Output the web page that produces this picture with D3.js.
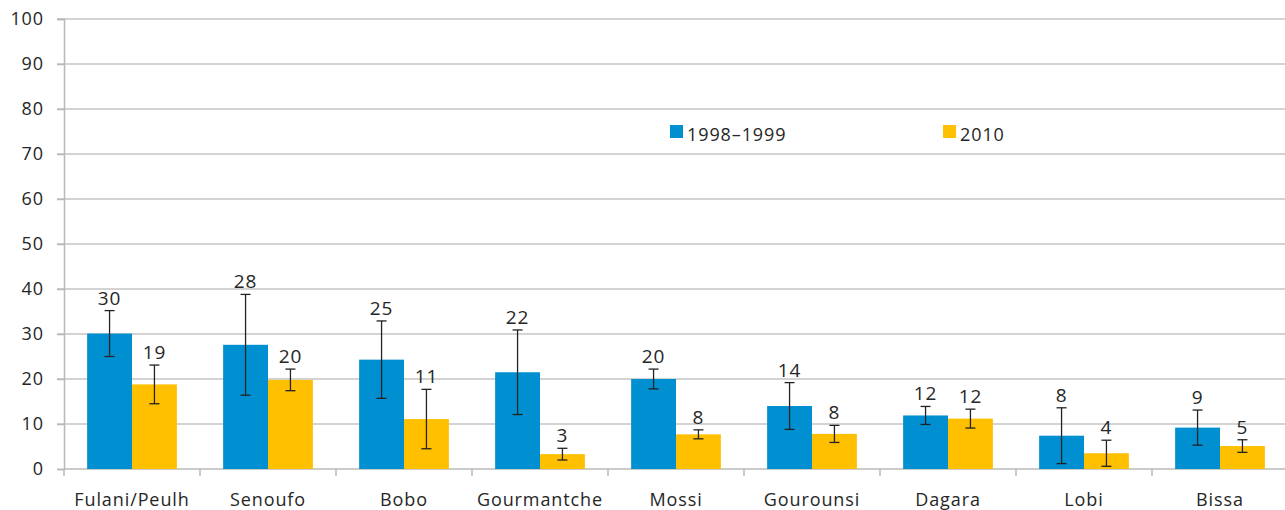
<!DOCTYPE html>
<html>
<head>
<meta charset="utf-8">
<script src="https://cdn.jsdelivr.net/npm/d3@7"></script>
<style>
  body { margin: 0; background: #fff; }
  svg { display: block; font-family: "Open Sans", "Noto Sans", sans-serif; }
  text { letter-spacing: 0.9px; }
</style>
</head>
<body>
<svg id="chart" width="1285" height="510"></svg>
<script>
// data
var groups = ["Fulani/Peulh", "Senoufo", "Bobo", "Gourmantche", "Mossi", "Gourounsi", "Dagara", "Lobi", "Bissa"];
var series = ["1998\u20131999", "2010"];
var val1998 = [30.1, 27.6, 24.3, 21.5, 20.0, 14.0, 11.9, 7.4, 9.2];
var err1998 = [5.1, 11.2, 8.6, 9.4, 2.2, 5.2, 2.0, 6.2, 3.9];
var lab1998 = ["30", "28", "25", "22", "20", "14", "12", "8", "9"];
var val2010 = [18.8, 19.8, 11.1, 3.3, 7.7, 7.8, 11.2, 3.5, 5.1];
var err2010 = [4.3, 2.4, 6.6, 1.3, 1.0, 1.9, 2.1, 2.9, 1.4];
var lab2010 = ["19", "20", "11", "3", "8", "8", "12", "4", "5"];
var yTicks = [0, 10, 20, 30, 40, 50, 60, 70, 80, 90, 100];
var colors = ["#0090d1", "#ffc000"];

var svg = d3.select("#chart");
var margin = {left: 64, top: 19, right: -3, bottom: 41};
var width = 1285 - margin.left - margin.right;
var height = 510 - margin.top - margin.bottom;

var g = svg.append("g")
  .attr("transform", "translate(" + margin.left + "," + margin.top + ")");

var x = d3.scaleBand().domain(groups).range([0, width]).paddingInner(0.34).paddingOuter(0.17);
var step = width / groups.length;
var x1 = d3.scaleBand().domain(series).range([0, x.bandwidth()]);
var y = d3.scaleLinear().domain([0, 100]).range([height, 0]);

// gridlines
g.append("g").selectAll("line").data(yTicks.filter(d => d > 0)).enter().append("line")
  .attr("x1", -7).attr("x2", width)
  .attr("y1", d => y(d)).attr("y2", d => y(d))
  .attr("stroke", "#c4c4c4").attr("stroke-width", 1.5);

// y axis
var yAxis = d3.axisLeft(y).tickValues(yTicks).tickSize(7).tickPadding(13);
var ya = g.append("g").call(yAxis);
ya.select(".domain").attr("stroke", "#b8b8b8").attr("stroke-width", 1.5);
ya.selectAll(".tick line").attr("stroke", "#b8b8b8").attr("stroke-width", 1.5);
ya.selectAll("text").attr("font-size", 18).attr("fill", "#262626")
  .attr("font-family", "'Open Sans', sans-serif");

// x axis line and tick marks between categories
var xa = g.append("g").attr("transform", "translate(0," + height + ")");
xa.append("line").attr("x1", 0).attr("x2", width).attr("stroke", "#b8b8b8").attr("stroke-width", 1.5);
xa.selectAll("line.tk").data(d3.range(groups.length + 1)).enter().append("line")
  .attr("class", "tk")
  .attr("x1", i => i * step).attr("x2", i => i * step)
  .attr("y1", 0).attr("y2", 7)
  .attr("stroke", "#b8b8b8").attr("stroke-width", 1.5);
xa.selectAll("text").data(groups).enter().append("text")
  .attr("x", d => x(d) + x.bandwidth() / 2)
  .attr("y", 37)
  .attr("text-anchor", "middle")
  .attr("font-size", 18).attr("fill", "#262626")
  .text(d => d);

// bars, error bars, value labels
var sets = [
  {vals: val1998, errs: err1998, labs: lab1998},
  {vals: val2010, errs: err2010, labs: lab2010}
];
sets.forEach(function(s, si) {
  var rows = groups.map((gname, i) => ({g: gname, v: s.vals[i], e: s.errs[i], l: s.labs[i]}));
  var layer = g.append("g");
  var cx = d => x(d.g) + x1(series[si]) + x1.bandwidth() / 2;
  layer.selectAll("rect").data(rows).enter().append("rect")
    .attr("x", d => x(d.g) + x1(series[si]))
    .attr("width", x1.bandwidth())
    .attr("y", d => y(d.v))
    .attr("height", d => height - y(d.v))
    .attr("fill", colors[si]);
  layer.selectAll("line.eb").data(rows).enter().append("line")
    .attr("class", "eb")
    .attr("x1", cx).attr("x2", cx)
    .attr("y1", d => y(d.v + d.e)).attr("y2", d => y(d.v - d.e))
    .attr("stroke", "#222").attr("stroke-width", 1.3);
  [1, -1].forEach(function(sg) {
    layer.selectAll("line.cap" + sg).data(rows).enter().append("line")
      .attr("x1", d => cx(d) - 5).attr("x2", d => cx(d) + 5)
      .attr("y1", d => y(d.v + sg * d.e)).attr("y2", d => y(d.v + sg * d.e))
      .attr("stroke", "#222").attr("stroke-width", 1.3);
  });
  layer.selectAll("text").data(rows).enter().append("text")
    .attr("x", cx)
    .attr("y", d => y(d.v + d.e) - 6)
    .attr("text-anchor", "middle")
    .attr("font-size", 19).attr("fill", "#262626")
    .text(d => d.l);
});

// legend
var legX = [670 - margin.left, 943 - margin.left];
series.forEach(function(name, i) {
  var lg = g.append("g").attr("transform", "translate(" + legX[i] + "," + (125 - margin.top) + ")");
  lg.append("rect").attr("width", 13).attr("height", 13).attr("fill", colors[i]);
  lg.append("text").attr("x", 17).attr("y", 16).attr("font-size", 18).attr("fill", "#262626").text(name);
});
</script>
</body>
</html>
